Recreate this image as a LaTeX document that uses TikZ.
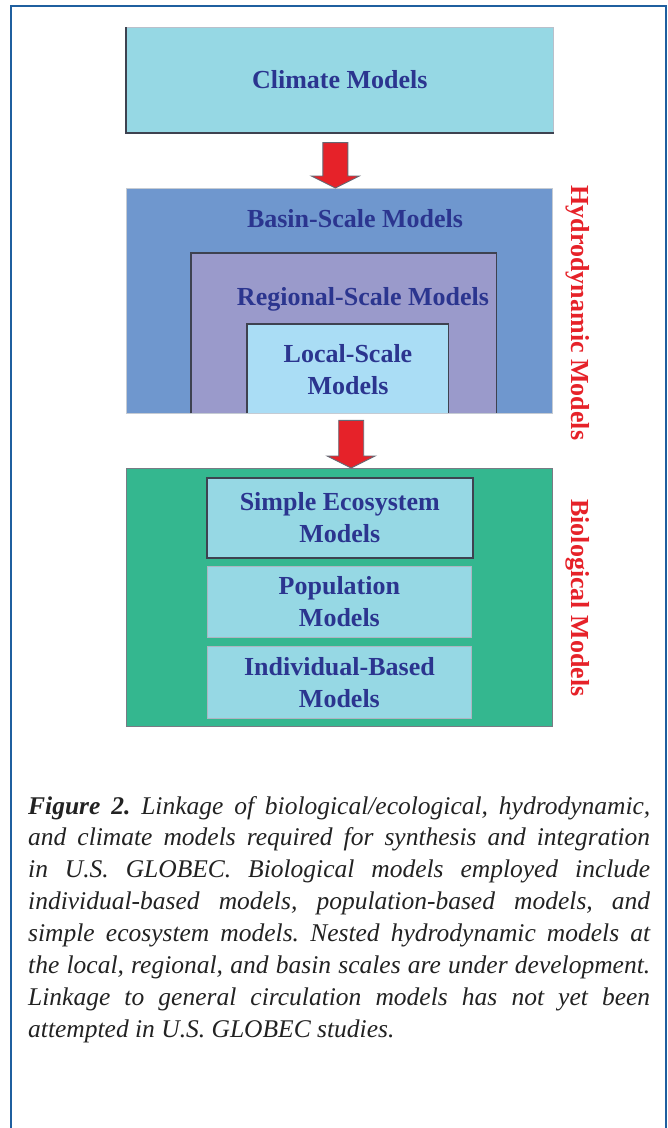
\documentclass[tikz,border=0pt]{standalone}
\usepackage{fontspec}
\setmainfont{Liberation Serif}
\usetikzlibrary{calc}
\definecolor{frameblue}{HTML}{1F5F9F}
\definecolor{climatefill}{HTML}{96D8E4}
\definecolor{basinfill}{HTML}{6F97CE}
\definecolor{regionfill}{HTML}{9A9ACB}
\definecolor{localfill}{HTML}{AADDF5}
\definecolor{biofill}{HTML}{34B78F}
\definecolor{innerfill}{HTML}{96D8E4}
\definecolor{navytext}{HTML}{2B358F}
\definecolor{arrowred}{HTML}{E62229}
\definecolor{edgedark}{HTML}{3E4250}
\definecolor{edgelight}{HTML}{8A96A8}
\definecolor{captiontext}{HTML}{222222}
\newcommand\blockarrowdraw[2]{%
  \fill[arrowred, draw=edgedark!80, line width=0.9pt, line join=miter]
    ($(#1)+(-12.5,0)$) -- ($(#1)+(12.5,0)$) -- ($(#2)+(12.5,-12)$) --
    ($(#2)+(24,-12)$) -- (#2) -- ($(#2)+(-24,-12)$) -- ($(#2)+(-12.5,-12)$) -- cycle;}
\begin{document}
\begin{tikzpicture}[x=1pt,y=-1pt,
  boxtext/.style={font=\fontsize{26}{32}\selectfont\bfseries, text=navytext, align=center},
  sidelabel/.style={font=\fontsize{26}{32}\selectfont\bfseries, text=arrowred, rotate=-90},
  plainbox/.style={rectangle, inner sep=0, anchor=north west}]
\useasboundingbox (0,0) rectangle (668,1128);
\fill[white] (0,0) rectangle (668,1128);
% outer frame
\draw[frameblue, line width=2.6pt] (11,1135) -- (11,6) -- (666,6) -- (666,1135);

% climate
\node[plainbox, fill=climatefill, draw=edgelight!60, line width=0.6pt, minimum width=427, minimum height=105, boxtext] (climate) at (126,27) {Climate Models};
\draw[edgedark, line width=2pt] (climate.north west) -- (climate.south west) -- (climate.south east);

% hydrodynamic nest
\node[plainbox, fill=basinfill, draw=edgelight!50, line width=0.6pt, minimum width=426, minimum height=225] (basin) at (126,188) {};
\node[boxtext, anchor=base] (basinlbl) at (355,227.5) {Basin-Scale Models};
\node[plainbox, fill=regionfill, minimum width=305, minimum height=160] (region) at (191,253) {};
\draw[edgedark, line width=1.6pt] (region.south west) -- (region.north west) -- (region.north east) -- (region.south east);
\node[boxtext, anchor=base] (regionlbl) at (363,305) {Regional-Scale Models};
\node[plainbox, fill=localfill, minimum width=201, minimum height=89] (local) at (247,324) {};
\draw[edgedark, line width=1.6pt] (local.south west) -- (local.north west) -- (local.north east) -- (local.south east);
\node[boxtext] (locallbl) at (348,370) {Local-Scale\\Models};

% biological
\node[plainbox, fill=biofill, draw=edgedark!70, line width=0.8pt, minimum width=426, minimum height=258] (bio) at (126,468) {};
\node[plainbox, fill=innerfill, draw=edgedark, line width=1.6pt, minimum width=266, minimum height=80] (simple) at (206,477) {};
\node[boxtext] (simplelbl) at (simple.center) {Simple Ecosystem\\Models};
\node[plainbox, fill=innerfill, draw=edgelight!70, line width=0.8pt, minimum width=264, minimum height=71] (pop) at (207,566) {};
\node[boxtext] (poplbl) at (pop.center) {Population\\Models};
\node[plainbox, fill=innerfill, draw=edgelight!70, line width=0.8pt, minimum width=264, minimum height=72] (indiv) at (207,646) {};
\node[boxtext] (indivlbl) at (indiv.center) {Individual-Based\\Models};

% side labels
\node[sidelabel] (hydrolbl) at (578,313) {Hydrodynamic Models};
\node[sidelabel] (biolbl) at (578,598) {Biological Models};

% arrows
\coordinate (a1s) at ($(climate.south)+(-4.5,10)$);
\coordinate (a1e) at (basin.north -| a1s);
\blockarrowdraw{a1s}{a1e}
\coordinate (a2s) at ($(local.south)+(3.5,7)$);
\coordinate (a2e) at (bio.north -| a2s);
\blockarrowdraw{a2s}{a2e}

% caption
\node[anchor=base west, inner sep=0, text=captiontext] (caption) at (28,814) {\parbox[t]{622pt}{\fontsize{25.5}{31.9}\selectfont\itshape\frenchspacing
\makebox[\linewidth][s]{\textbf{Figure 2.} Linkage of biological/ecological, hydrodynamic,}\par
\makebox[\linewidth][s]{and climate models required for synthesis and integration}\par
\makebox[\linewidth][s]{in U.S. GLOBEC. Biological models employed include}\par
\makebox[\linewidth][s]{individual-based models, population-based models, and}\par
\makebox[\linewidth][s]{simple ecosystem models. Nested hydrodynamic models at}\par
\makebox[\linewidth][s]{the local, regional, and basin scales are under development.}\par
\makebox[\linewidth][s]{Linkage to general circulation models has not yet been}\par
attempted in U.S. GLOBEC studies.}};
\end{tikzpicture}
\end{document}
